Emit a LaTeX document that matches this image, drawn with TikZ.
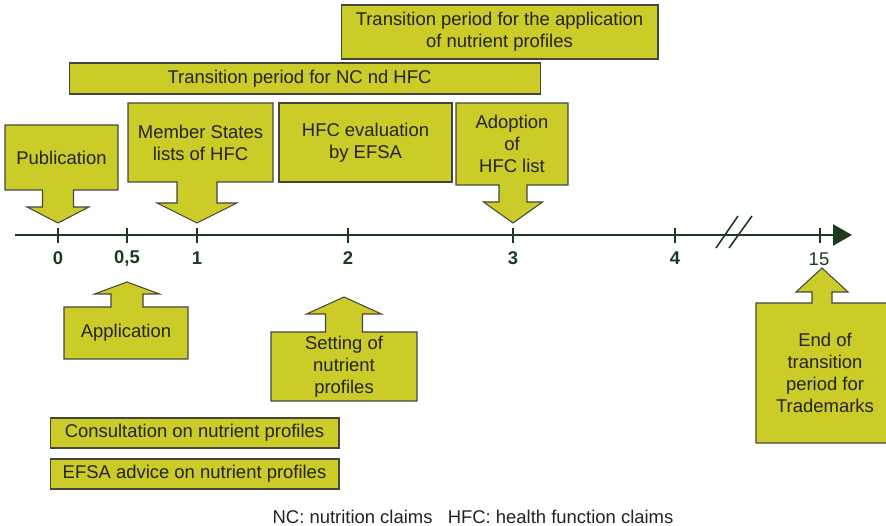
\documentclass[tikz,border=0pt]{standalone}
\usepackage{fontspec}
\setmainfont{Liberation Sans}
\usepackage{xcolor}
\usetikzlibrary{positioning,calc,backgrounds,arrows.meta}

\definecolor{boxfill}{RGB}{204,204,41}
\definecolor{boxline}{RGB}{70,70,62}
\definecolor{axisgreen}{RGB}{28,58,32}
\definecolor{textgray}{RGB}{35,35,35}

\begin{document}
\begin{tikzpicture}[x=0.02cm, y=-0.02cm,
	box/.style={rectangle, fill=boxfill, draw=boxline, line width=0.6pt, align=center, text=textgray, font=\fontsize{10.5}{12.6}\selectfont, inner sep=2pt},
	boxtext/.style={rectangle, align=center, text=textgray, font=\fontsize{10.5}{12.6}\selectfont, inner sep=2pt, outer sep=0pt},
	callout/.style={fill=boxfill, draw=boxline, line width=0.6pt, line join=miter},
	axistick/.style={axisgreen, line width=1.2pt},
	ticklabel/.style={text=axisgreen, font=\fontsize{10.5}{12.6}\selectfont\bfseries},
	footnote/.style={text=textgray, font=\fontsize{10.5}{12.6}\selectfont}
	]
	\useasboundingbox (0,0) rectangle (886,526);
	
	% ===== AXIS =====
	\coordinate (ax_start) at (15,235);
	\coordinate (ax_end)   at (852,235);
	\draw[axisgreen, line width=1.4pt, -{Triangle[length=0.38cm, width=0.42cm]}] (ax_start) -- (ax_end);
	
	\coordinate (t0)  at (58,235);
	\coordinate (t05) at (127,235);
	\coordinate (t1)  at (197,235);
	\coordinate (t2)  at (348,235);
	\coordinate (t3)  at (513,235);
	\coordinate (t4)  at (675,235);
	\coordinate (t15) at (820,235);
	\foreach \t in {t0,t05,t1,t2,t3,t4,t15}
		\draw[axistick] (\t) ++(0,-7) -- ++(0,15);
	
	\node[ticklabel] (l0)  at (58,258)  {0};
	\node[ticklabel] (l05) at (127,258) {0,5};
	\node[ticklabel] (l1)  at (197,258) {1};
	\node[ticklabel] (l2)  at (348,258) {2};
	\node[ticklabel] (l3)  at (513,258) {3};
	\node[ticklabel] (l4)  at (675,258) {4};
	\node[ticklabel, font=\fontsize{10.5}{12.6}\selectfont] (l15) at (819,259) {15};
	
	% break marks
	\draw[axisgreen, line width=0.9pt] (716,248) -- (738,216);
	\draw[axisgreen, line width=0.9pt] (729,248) -- (752,216);
	
	% ===== PERIOD BARS =====
	\node[box, minimum width=6.34cm, minimum height=1.08cm] (np_period) at (499.5,32) {Transition period for the application\\of nutrient profiles};
	\node[box, minimum width=9.44cm, minimum height=0.62cm] (nc_period) at (305,78.5) {Transition period for NC nd HFC\hspace{0.6em}};
	\node[box, minimum width=3.46cm, minimum height=1.58cm] (hfc_eval) at (365.5,142.5) {HFC evaluation\\by EFSA};
	
	\node[box, minimum width=5.78cm, minimum height=0.60cm] (consult) at (194.5,433) {Consultation on nutrient profiles};
	\node[box, minimum width=5.78cm, minimum height=0.60cm] (efsa) at (194.5,474) {EFSA advice on nutrient profiles};
	
	% ===== CALLOUTS ABOVE THE AXIS =====
	\node[boxtext, minimum width=2.26cm, minimum height=1.30cm] (pub) at (61.5,157.5) {Publication};
	\node[boxtext, minimum width=2.90cm, minimum height=1.58cm] (member) at (200.5,142.5) {Member States\\lists of HFC};
	\node[boxtext, minimum width=2.24cm, minimum height=1.64cm] (adopt) at (512,144) {Adoption\\of\\HFC list};
	
	% ===== CALLOUTS BELOW THE AXIS =====
	\node[boxtext, minimum width=2.48cm, minimum height=1.04cm] (appl) at (126,333) {Application};
	\node[boxtext, minimum width=2.92cm, minimum height=1.38cm] (setting) at (344,366.5) {Setting of\\nutrient\\profiles};
	\node[boxtext, minimum width=2.76cm, minimum height=2.80cm] (endtm) at (825,373) {End of\\transition\\period for\\Trademarks};
	
	\begin{pgfonlayer}{background}
		\draw[callout] (pub.north west) -- (pub.south west) -- (42.5,190) -- (42.5,207) -- (27,207) -- (58,223)
			-- (89,207) -- (73.5,207) -- (73.5,190) -- (pub.south east) -- (pub.north east) -- cycle;
		\draw[callout] (member.north west) -- (member.south west) -- (177,182) -- (177,203) -- (157,203) -- (197,223)
			-- (237,203) -- (217,203) -- (217,182) -- (member.south east) -- (member.north east) -- cycle;
		\draw[callout] (adopt.north west) -- (adopt.south west) -- (499,185) -- (499,202) -- (483.5,202) -- (513,223)
			-- (542.5,202) -- (527,202) -- (527,185) -- (adopt.south east) -- (adopt.north east) -- cycle;
		
		\draw[callout] (appl.south west) -- (appl.north west) -- (111,307) -- (111,294) -- (94.5,294) -- (127,282)
			-- (159.5,294) -- (143,294) -- (143,307) -- (appl.north east) -- (appl.south east) -- cycle;
		\draw[callout] (setting.south west) -- (setting.north west) -- (325.5,332) -- (325.5,314) -- (306.5,314) -- (344,297)
			-- (381.5,314) -- (362.5,314) -- (362.5,332) -- (setting.north east) -- (setting.south east) -- cycle;
		\draw[callout] (endtm.south west) -- (endtm.north west) -- (812,303) -- (812,292) -- (796,292) -- (822,268)
			-- (848,292) -- (832,292) -- (832,303) -- (endtm.north east) -- (endtm.south east) -- cycle;
	\end{pgfonlayer}
	
	% ===== LEGEND =====
	\node[footnote] (legend) at (473,517) {NC: nutrition claims\hspace{0.55em} HFC: health function claims};
	
\end{tikzpicture}
\end{document}
